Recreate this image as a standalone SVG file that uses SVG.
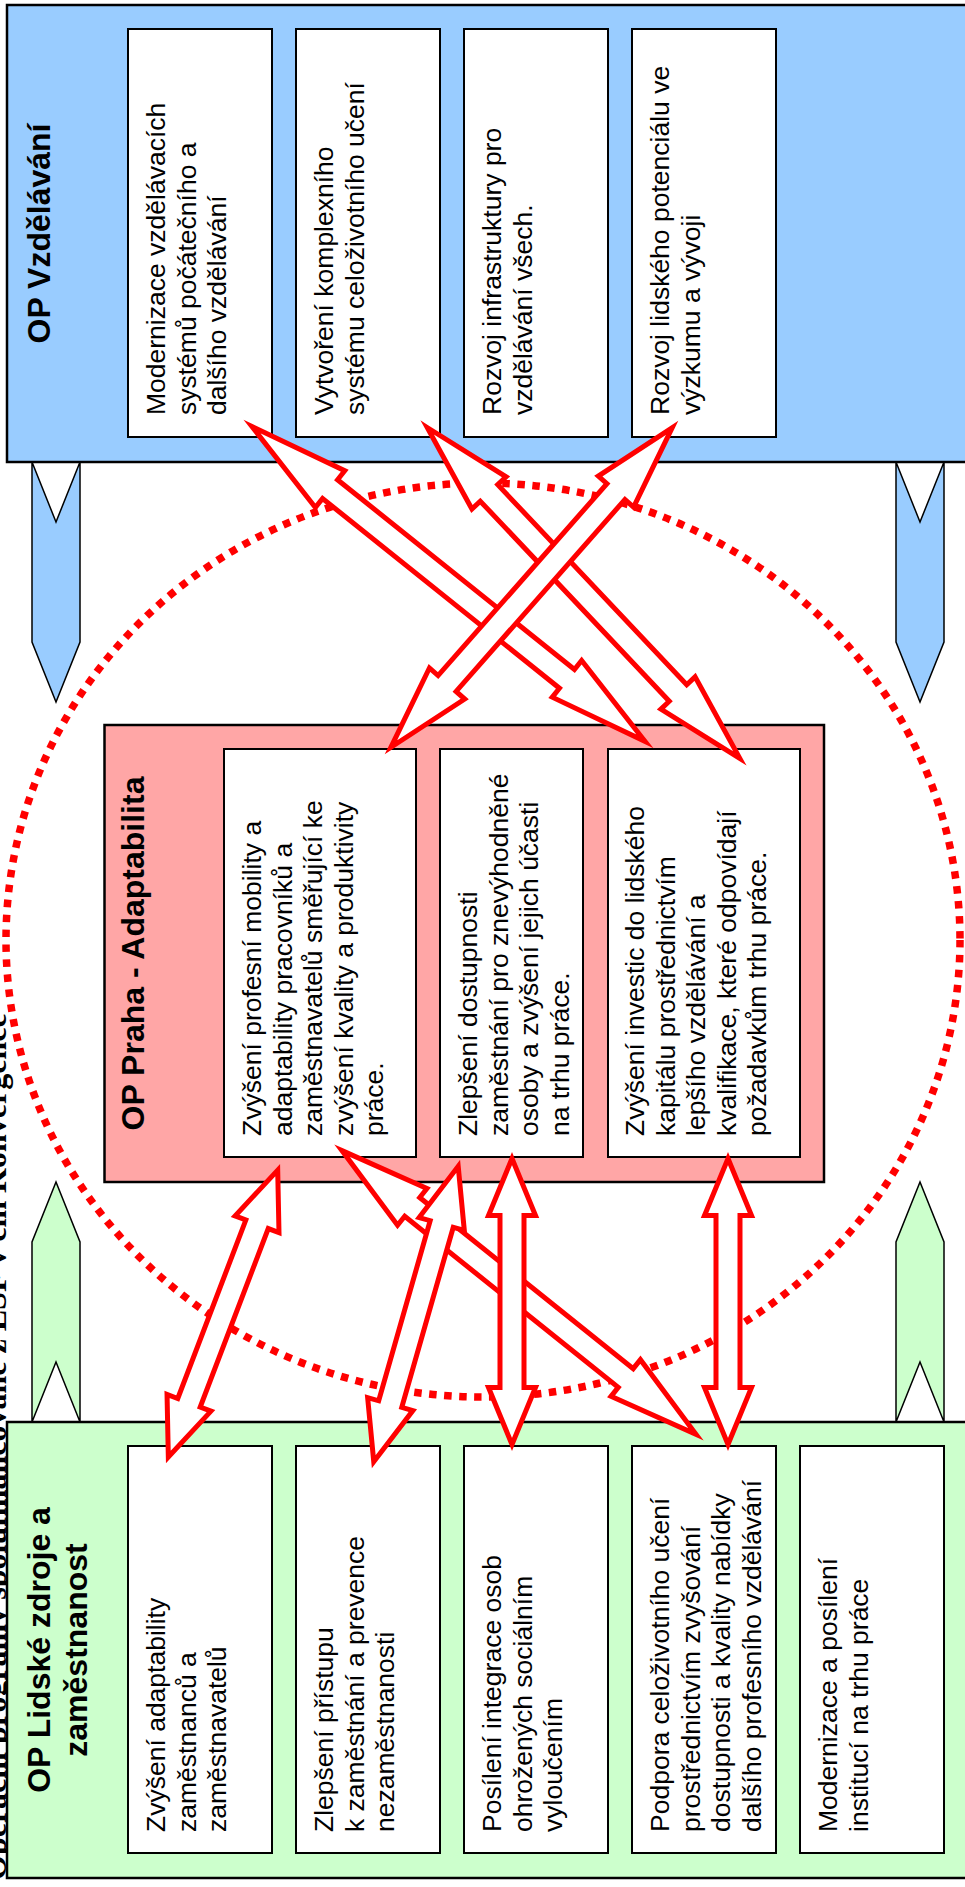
<svg xmlns="http://www.w3.org/2000/svg" width="965" height="1887" viewBox="0 0 965 1887">
  <style>
    .panel { stroke: #000; stroke-width: 2.5; }
    .blue { fill: #99CCFF; }
    .pink { fill: #FFA6A6; }
    .green { fill: #CCFFCC; }
    .item { fill: #fff; stroke: #000; stroke-width: 2; }
    .chev { stroke: #000; stroke-width: 1.5; stroke-linejoin: miter; }
    .body { font-family: "Liberation Sans", Arial, sans-serif; font-size: 26.5px; fill: #000; }
    .title { font-family: "Liberation Sans", Arial, sans-serif; font-size: 32px; font-weight: bold; fill: #000; text-anchor: middle; }
    .caption { font-family: "Liberation Serif", "Times New Roman", serif; font-size: 32px; font-weight: bold; fill: #000; }
    .ring { fill: none; stroke: #FF0000; stroke-width: 7.5; stroke-dasharray: 7.5 7.5; }
    .arr { fill: #fff; stroke: #FF0000; stroke-width: 5; stroke-linejoin: miter; stroke-miterlimit: 10; }
  </style>
  <defs>
    <path id="vshaft" d="M0,0 L57,-23.5 L57,-12 L229,-12 L229,-23.5 L286,0 L229,23.5 L229,12 L57,12 L57,23.5 Z"/>
  </defs>

  <rect width="965" height="1887" fill="#fff"/>

  <!-- caption running along the left edge -->
  <text class="caption" transform="translate(6,1880) rotate(-90)">Operační programy spolufinancované z ESF v cíli Konvergence</text>

  <!-- OP Vzdělávání -->
  <g id="op-vzdelavani">
    <rect class="panel blue" x="7" y="5" width="1000" height="457"/>
    <text class="title" transform="translate(50,233.5) rotate(-90)">OP Vzdělávání</text>
    <g id="vz-1">
      <rect class="item" x="128" y="29" width="144" height="408"/>
      <text class="body" transform="translate(165,415) rotate(-90)"><tspan x="0" y="0">Modernizace vzdělávacích</tspan><tspan x="0" y="30.5">systémů počátečního a</tspan><tspan x="0" y="61">dalšího vzdělávání</tspan></text>
    </g>
    <g id="vz-2">
      <rect class="item" x="296" y="29" width="144" height="408"/>
      <text class="body" transform="translate(333,415) rotate(-90)"><tspan x="0" y="0">Vytvoření komplexního</tspan><tspan x="0" y="30.5">systému celoživotního učení</tspan></text>
    </g>
    <g id="vz-3">
      <rect class="item" x="464" y="29" width="144" height="408"/>
      <text class="body" transform="translate(501,415) rotate(-90)"><tspan x="0" y="0">Rozvoj infrastruktury pro</tspan><tspan x="0" y="30.5">vzdělávání všech.</tspan></text>
    </g>
    <g id="vz-4">
      <rect class="item" x="632" y="29" width="144" height="408"/>
      <text class="body" transform="translate(669,415) rotate(-90)"><tspan x="0" y="0">Rozvoj lidského potenciálu ve</tspan><tspan x="0" y="30.5">výzkumu a vývoji</tspan></text>
    </g>
  </g>

  <!-- downward chevrons under the top panel -->
  <g id="down-chevrons">
    <polygon class="chev blue" points="32,462 56,522 80,462 80,642 56,702 32,642"/>
    <polygon class="chev blue" points="896,462 920,522 944,462 944,642 920,702 896,642"/>
  </g>

  <!-- upward chevrons above the bottom panel -->
  <g id="up-chevrons">
    <polygon class="chev green" points="32,1422 56,1362 80,1422 80,1242 56,1182 32,1242"/>
    <polygon class="chev green" points="896,1422 920,1362 944,1422 944,1242 920,1182 896,1242"/>
  </g>

  <!-- OP Lidské zdroje a zaměstnanost -->
  <g id="op-lzz">
    <rect class="panel green" x="7" y="1422" width="1000" height="456"/>
    <text class="title" transform="translate(50,1650) rotate(-90)"><tspan x="0" y="0">OP Lidské zdroje a</tspan><tspan x="0" y="37">zaměstnanost</tspan></text>
    <g id="lzz-1">
      <rect class="item" x="128" y="1446" width="144" height="407"/>
      <text class="body" transform="translate(165,1832) rotate(-90)"><tspan x="0" y="0">Zvýšení adaptability</tspan><tspan x="0" y="30.5">zaměstnanců a</tspan><tspan x="0" y="61">zaměstnavatelů</tspan></text>
    </g>
    <g id="lzz-2">
      <rect class="item" x="296" y="1446" width="144" height="407"/>
      <text class="body" transform="translate(333,1832) rotate(-90)"><tspan x="0" y="0">Zlepšení přístupu</tspan><tspan x="0" y="30.5">k zaměstnání a prevence</tspan><tspan x="0" y="61">nezaměstnanosti</tspan></text>
    </g>
    <g id="lzz-3">
      <rect class="item" x="464" y="1446" width="144" height="407"/>
      <text class="body" transform="translate(501,1832) rotate(-90)"><tspan x="0" y="0">Posílení integrace osob</tspan><tspan x="0" y="30.5">ohrožených sociálním</tspan><tspan x="0" y="61">vyloučením</tspan></text>
    </g>
    <g id="lzz-4">
      <rect class="item" x="632" y="1446" width="144" height="407"/>
      <text class="body" transform="translate(669,1832) rotate(-90)"><tspan x="0" y="0">Podpora celoživotního učení</tspan><tspan x="0" y="30.5">prostřednictvím zvyšování</tspan><tspan x="0" y="61">dostupnosti a kvality nabídky</tspan><tspan x="0" y="91.5">dalšího profesního vzdělávání</tspan></text>
    </g>
    <g id="lzz-5">
      <rect class="item" x="800" y="1446" width="144" height="407"/>
      <text class="body" transform="translate(837,1832) rotate(-90)"><tspan x="0" y="0">Modernizace a posílení</tspan><tspan x="0" y="30.5">institucí na trhu práce</tspan></text>
    </g>
  </g>

  <!-- dotted ring round the Prague programme -->
  <ellipse class="ring" cx="483" cy="940" rx="477" ry="457"/>

  <!-- OP Praha - Adaptabilita -->
  <g id="op-praha">
    <rect class="panel pink" x="104.5" y="725" width="719.5" height="457"/>
    <text class="title" transform="translate(144,953.5) rotate(-90)">OP Praha - Adaptabilita</text>
    <g id="pr-1">
      <rect class="item" x="224" y="749" width="192" height="408"/>
      <text class="body" transform="translate(261,1136) rotate(-90)"><tspan x="0" y="0">Zvýšení profesní mobility a</tspan><tspan x="0" y="30.5">adaptability pracovníků a</tspan><tspan x="0" y="61">zaměstnavatelů směřující ke</tspan><tspan x="0" y="91.5">zvýšení kvality a produktivity</tspan><tspan x="0" y="122">práce.</tspan></text>
    </g>
    <g id="pr-2">
      <rect class="item" x="440" y="749" width="143" height="408"/>
      <text class="body" transform="translate(477,1136) rotate(-90)"><tspan x="0" y="0">Zlepšení dostupnosti</tspan><tspan x="0" y="30.5">zaměstnání pro znevýhodněné</tspan><tspan x="0" y="61">osoby a zvýšení jejich účasti</tspan><tspan x="0" y="91.5">na trhu práce.</tspan></text>
    </g>
    <g id="pr-3">
      <rect class="item" x="608" y="749" width="192" height="408"/>
      <text class="body" transform="translate(644,1136) rotate(-90)"><tspan x="0" y="0">Zvýšení investic do lidského</tspan><tspan x="0" y="30.5">kapitálu prostřednictvím</tspan><tspan x="0" y="61">lepšího vzdělávání a</tspan><tspan x="0" y="91.5">kvalifikace, které odpovídají</tspan><tspan x="0" y="122">požadavkům trhu práce.</tspan></text>
    </g>
  </g>

  <!-- two-headed links between priorities -->
  <g id="connectors">
    <path class="arr" transform="translate(252,426.6) rotate(38.69)" d="M0,0 L100,-23.5 L100,-12 L403.5,-12 L403.5,-23.5 L503.5,0 L403.5,23.5 L403.5,12 L100,12 L100,23.5 Z"/>
    <path class="arr" transform="translate(427.2,427.5) rotate(46.63)" d="M0,0 L90,-23.5 L90,-12 L365.2,-12 L365.2,-23.5 L455.2,0 L365.2,23.5 L365.2,12 L90,12 L90,23.5 Z"/>
    <path class="arr" transform="translate(672.1,427.8) rotate(131.35)" d="M0,0 L85,-23.5 L85,-12 L340.6,-12 L340.6,-23.5 L425.6,0 L340.6,23.5 L340.6,12 L85,12 L85,23.5 Z"/>
    <path class="arr" transform="translate(342,1150.6) rotate(38.71)" d="M0,0 L90,-23.5 L90,-12 L363.6,-12 L363.6,-23.5 L453.6,0 L363.6,23.5 L363.6,12 L90,12 L90,23.5 Z"/>
    <path class="arr" transform="translate(277.7,1170.1) rotate(110.87)" d="M0,0 L58,-23.5 L58,-12 L249,-12 L249,-23.5 L307,0 L249,23.5 L249,12 L58,12 L58,23.5 Z"/>
    <path class="arr" transform="translate(458.2,1166.3) rotate(105.95)" d="M0,0 L60,-23.5 L60,-12 L247.3,-12 L247.3,-23.5 L307.3,0 L247.3,23.5 L247.3,12 L60,12 L60,23.5 Z"/>
    <use class="arr" href="#vshaft" transform="translate(512,1158.5) rotate(90)"/>
    <use class="arr" href="#vshaft" transform="translate(728,1158.5) rotate(90)"/>
  </g>
</svg>
